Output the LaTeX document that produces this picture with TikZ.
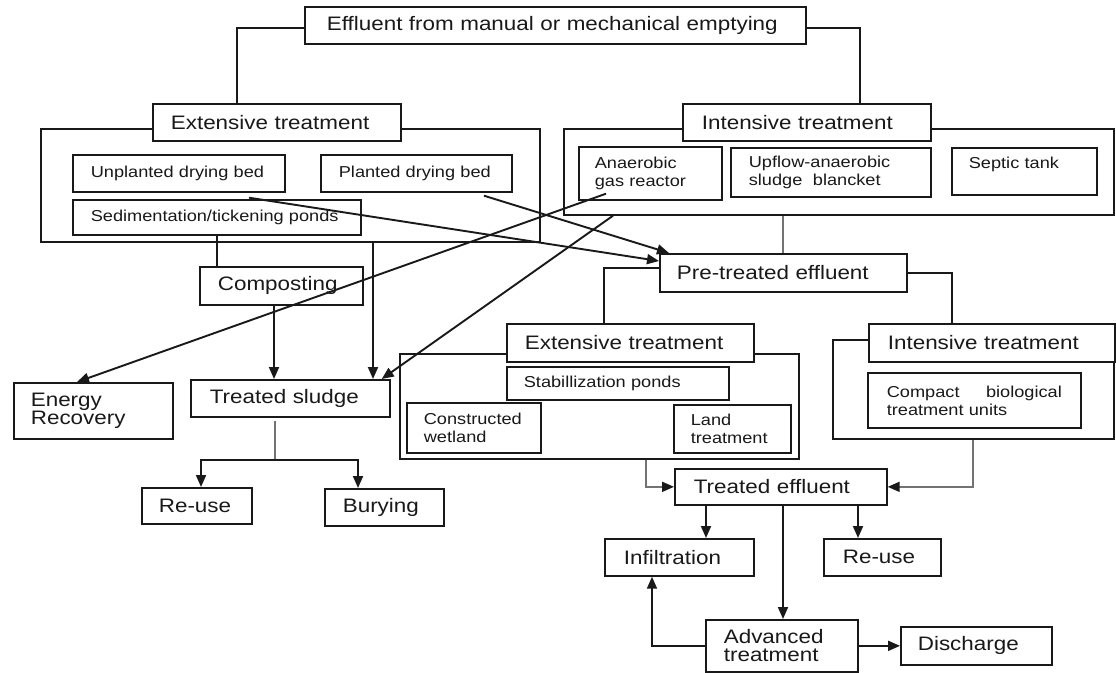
\documentclass[tikz,border=0pt]{standalone}
\usepackage{fontspec}
\setmainfont{Liberation Sans}[FakeStretch=1.15]
\usetikzlibrary{arrows.meta}
\definecolor{ink}{gray}{0.1}
\newcommand\bigf{\fontsize{19.5}{18}\selectfont\hyphenpenalty=10000 }
\newcommand\smlf{\fontsize{15.8}{18}\selectfont\hyphenpenalty=10000 }

\begin{document}
\begin{tikzpicture}[x=1pt,y=-1pt,
  bx/.style={draw=ink, line width=1.7pt, fill=white, inner xsep=18pt, inner ysep=0pt,
             align=left, anchor=north west, text=ink},
  frm/.style={draw=ink, line width=1.7pt, inner sep=0pt, anchor=north west},
  ln/.style={draw=ink, line width=1.9pt},
  soft/.style={draw=black!55, line width=1.8pt},
  arr/.style={-{Triangle[length=12pt,width=10pt,color=ink]}},
]
\useasboundingbox[fill=white] (0,0) rectangle (1116,672);

% group frames
\node[frm, minimum width=499, minimum height=113] (frameL) at (40,128) {};
\node[frm, minimum width=550, minimum height=86]  (frameR) at (563,128) {};
\node[frm, minimum width=399, minimum height=105] (frameE) at (399,353) {};
\node[frm, minimum width=281, minimum height=99]  (frameI) at (832,339) {};

% source
\node[bx, font=\bigf, inner xsep=22pt, text width=457, minimum height=37] (top) at (304,6)
  {\mbox{Effluent from manual or mechanical emptying}};

% sludge treatment
\node[bx, font=\bigf, text width=212, minimum height=37] (extA) at (152,103) {Extensive treatment};
\node[bx, font=\smlf, text width=176, minimum height=37] (unpl) at (72,154) {\mbox{Unplanted drying bed}};
\node[bx, font=\smlf, text width=155, minimum height=37] (plant) at (320,154) {\mbox{Planted drying bed}};
\node[bx, font=\smlf, text width=252, minimum height=35] (sedi) at (72,199) {\mbox{Sedimentation/tickening ponds}};

\node[bx, font=\bigf, inner xsep=19pt, text width=210, minimum height=37] (intA) at (682,103) {Intensive treatment};
\node[bx, font=\smlf, inner xsep=16pt, text width=111, minimum height=53] (anae) at (578,146) {Anaerobic\\gas reactor};
\node[bx, font=\smlf, text width=164, minimum height=49] (upfl) at (730,147) {Upflow-anaerobic\\sludge\ \ blancket};
\node[bx, font=\smlf, inner xsep=17pt, text width=111, minimum height=47] (sept) at (951,147) {Septic tank\\\mbox{}};

\node[bx, font=\bigf, text width=127, minimum height=38] (compost) at (199,266) {Composting};
\node[bx, font=\bigf, inner xsep=19pt, text width=161, minimum height=37] (tsl) at (190,379) {Treated sludge};
\node[bx, font=\bigf, inner xsep=17pt, text width=125, minimum height=56] (energy) at (13,382) {Energy\\Recovery};
\node[bx, font=\bigf, inner xsep=17pt, text width=76, minimum height=36] (reuseL) at (141,487) {\mbox{Re-use}};
\node[bx, font=\bigf, text width=83, minimum height=37] (bury) at (324,488) {Burying};

% effluent treatment
\node[bx, font=\bigf, inner xsep=17pt, text width=213, minimum height=38] (pre) at (659,253) {Pre-treated effluent};
\node[bx, font=\bigf, text width=211, minimum height=38] (extB) at (506,323) {Extensive treatment};
\node[bx, font=\smlf, inner xsep=17pt, text width=188, minimum height=33] (stab) at (506,366) {Stabillization ponds};
\node[bx, font=\smlf, inner xsep=17pt, text width=100, minimum height=50] (cons) at (406,402) {\mbox{Constructed}\\wetland};
\node[bx, font=\smlf, inner xsep=17pt, text width=83, minimum height=48] (land) at (673,404) {Land\\treatment};

\node[bx, font=\bigf, inner xsep=19pt, text width=208, minimum height=38] (intB) at (868,323) {Intensive treatment};
\node[bx, font=\smlf, inner xsep=19pt, text width=175, minimum height=55] (comp) at (867,372) {Compact\hfill biological\\treatment units};

\node[bx, font=\bigf, inner xsep=19pt, text width=174, minimum height=36] (teff) at (674,468) {Treated effluent};
\node[bx, font=\bigf, inner xsep=19pt, text width=111, minimum height=37] (infil) at (604,538) {Infiltration};
\node[bx, font=\bigf, inner xsep=19pt, text width=79, minimum height=37] (reuseR) at (823,538) {\mbox{Re-use}};
\node[bx, font=\bigf, text width=116, minimum height=52] (adv) at (705,619) {Advanced\\treatment};
\node[bx, font=\bigf, inner xsep=17pt, text width=117, minimum height=38] (disc) at (900,626) {Discharge};

% tree connectors
\draw[ln] ([yshift=-3pt]top.west) -| ([xshift=85pt]extA.north west);
\draw[ln] ([yshift=-3pt]top.east) -| ([xshift=178pt]intA.north west);

\coordinate (sedC) at ([xshift=145pt]sedi.south west);
\draw[ln] (sedC) -- (sedC |- compost.north);
\coordinate (frL) at ([xshift=333pt]frameL.south west);
\draw[ln,arr] (frL) -- (frL |- tsl.north);
\coordinate (cmpC) at ([xshift=75pt]compost.south west);
\draw[ln,arr] (cmpC) -- (cmpC |- tsl.north);
\coordinate (tsC) at ([xshift=85pt,yshift=-3pt]tsl.south west);
\draw[soft] (tsC) -- ++(0,39) coordinate (tsJ);
\draw[ln,arr] (tsJ) -| ([xshift=60pt]reuseL.north west);
\draw[ln,arr] (tsJ) -| ([xshift=34pt]bury.north west);

\coordinate (rpC) at ([xshift=124pt]pre.north west);
\draw[soft] (rpC |- frameR.south) -- (rpC);
\draw[ln] ([yshift=5pt]pre.west) -| ([xshift=98pt]extB.north west);
\draw[ln] (pre.east) -| ([xshift=84pt]intB.north west);

\coordinate (feC) at ([xshift=247pt]frameE.south west);
\draw[soft,arr] (feC) |- (teff.west);
\coordinate (fiC) at ([xshift=141pt]frameI.south west);
\draw[soft,arr] (fiC) |- (teff.east);

\coordinate (tiC) at ([xshift=32pt]teff.south west);
\draw[ln,arr] (tiC) -- (tiC |- infil.north);
\coordinate (trC) at ([xshift=184pt]teff.south west);
\draw[ln,arr] (trC) -- (trC |- reuseR.north);
\coordinate (taC) at ([xshift=109pt]teff.south west);
\draw[ln,arr] (taC) -- (taC |- adv.north);
\draw[ln,arr] (adv.east) -- (disc.west);
\draw[ln,arr] (adv.west) -| ([xshift=48pt]infil.south west);

% crossing flows between the two branches
\draw[ln,arr] ([xshift=177pt,yshift=-5pt]unpl.south west) -- ([yshift=-8pt]pre.north west);
\draw[ln,arr] ([xshift=164pt,yshift=-3pt]plant.south west) -- ([xshift=10pt]pre.north west);
\draw[ln,arr] ([xshift=28pt,yshift=7pt]anae.south west) -- ([xshift=64pt]energy.north west);
\draw[ln,arr] ([xshift=35pt,yshift=-15pt]anae.south west) -- ([xshift=-9pt]tsl.north east);
\end{tikzpicture}
\end{document}
